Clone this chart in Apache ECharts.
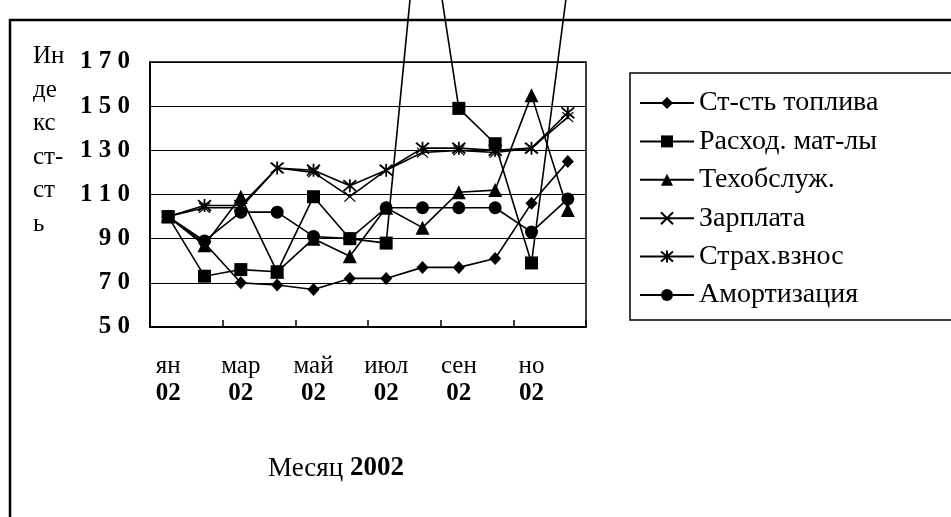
<!DOCTYPE html>
<html>
<head>
<meta charset="utf-8">
<script src="https://cdn.jsdelivr.net/npm/echarts@6/dist/echarts.min.js"></script>
<style>
html,body{margin:0;padding:0;background:#fff;}
#c{width:951px;height:517px;}
</style>
</head>
<body>
<div id="c"></div>
<script>
// ---- data ----
const months = ['ян','фев','мар','апр','май','июн','июл','авг','сен','окт','но','дек'];
const yearLabel = '02';
const fuel      = [100, 88, 70, 69, 67, 72, 72, 77, 77, 81, 106, 125];
const materials = [100, 73, 76, 75, 109, 90, 88, 256, 149, 133, 79, 205];
const service   = [100, 87, 109, 75, 90, 82, 104, 95, 111, 112, 155, 103];
const salary    = [100, 104, 104, 122, 120, 109, 121, 129, 130, 129, 131, 145];
const insurance = [100, 105, 105, 122, 121, 114, 121, 131, 131, 130, 131, 147];
const amort     = [100, 89, 102, 102, 91, 90, 104, 104, 104, 104, 93, 108];
const seriesNames = ['Ст-сть топлива','Расход. мат-лы','Техобслуж.','Зарплата','Страх.взнос','Амортизация'];
const yTitle = ['Ин','де','кс','ст-','ст','ь'];
const xTitle = 'Месяц';
const xTitleYear = '2002';
const yMin = 50, yMax = 170, yStep = 20;

const SERIF = '"Liberation Serif","Times New Roman",serif';
const chart = echarts.init(document.getElementById('c'));

const xPath = 'path://M0,0 L10,10 M10,0 L0,10';
const starPath = 'path://M0,0 L10,10 M10,0 L0,10 M5,-1 L5,11';

function mk(name, data, symbol, size, extra) {
  return Object.assign({
    name: name, type: 'line', data: data,
    symbol: symbol, symbolSize: size,
    clip: false, animation: false,
    lineStyle: { color: '#000', width: 1.6 },
    itemStyle: { color: '#000', borderColor: '#000', borderWidth: 0 },
    emphasis: { disabled: true }
  }, extra || {});
}

const option = {
  backgroundColor: '#fff',
  animation: false,
  textStyle: { fontFamily: SERIF, color: '#000' },
  grid: { left: 150, right: 365, top: 62, bottom: 190, show: true, borderColor: '#000', borderWidth: 1.5 },
  xAxis: {
    type: 'category', data: months, boundaryGap: true,
    axisLine: { lineStyle: { color: '#000', width: 2 } },
    axisTick: { show: true, inside: true, length: 7, interval: 1, lineStyle: { color: '#000', width: 1.5 } },
    axisLabel: {
      interval: 1, margin: 25, color: '#000',
      formatter: function (v) { return '{m|' + v + '}\n{y|' + yearLabel + '}'; },
      rich: {
        m: { fontFamily: SERIF, fontSize: 25, lineHeight: 28, color: '#000' },
        y: { fontFamily: SERIF, fontSize: 25, fontWeight: 'bold', lineHeight: 28, color: '#000' }
      }
    },
    splitLine: { show: false }
  },
  yAxis: {
    type: 'value', min: yMin, max: yMax, interval: yStep,
    axisLine: { show: true, lineStyle: { color: '#000', width: 2 } },
    axisTick: { show: false },
    axisLabel: {
      margin: 20, color: '#000', fontFamily: SERIF, fontSize: 25, fontWeight: 'bold',
      padding: [12, 0, 0, 0],
      formatter: function (v) { return String(v).split('').join(' '); }
    },
    splitLine: { show: true, lineStyle: { color: '#000', width: 1 } }
  },
  legend: {
    orient: 'vertical', left: 630, top: 73,
    padding: [15, 120, 10, 9],
    itemWidth: 54, itemHeight: 15, itemGap: 8.4,
    borderColor: '#000', borderWidth: 1.5,
    textStyle: { fontFamily: SERIF, fontSize: 28, lineHeight: 30, color: '#000' },
    data: seriesNames
  },
  graphic: [
    { type: 'rect', z: -10, silent: true, shape: { x: 10, y: 20, width: 2000, height: 2000 },
      style: { fill: 'none', stroke: '#000', lineWidth: 2.5 } },
    { type: 'text', left: 33, top: 40, silent: true,
      style: { text: yTitle.join('\n'), font: '25px ' + SERIF, lineHeight: 33.5, fill: '#000' } },
    { type: 'text', left: 268, top: 455, silent: true,
      style: {
        text: '{a|' + xTitle + ' }{b|' + xTitleYear + '}',
        rich: {
          a: { fontFamily: SERIF, fontSize: 27, fill: '#000' },
          b: { fontFamily: SERIF, fontSize: 27, fontWeight: 'bold', fill: '#000' }
        }
      } }
  ],
  series: [
    mk(seriesNames[0], fuel, 'diamond', [12, 13]),
    mk(seriesNames[1], materials, 'rect', 13),
    mk(seriesNames[2], service, 'triangle', 14),
    mk(seriesNames[3], salary, xPath, [11, 10], { itemStyle: { color: '#000', borderColor: '#000', borderWidth: 1.2 } }),
    mk(seriesNames[4], insurance, starPath, [13, 13], { itemStyle: { color: '#000', borderColor: '#000', borderWidth: 1.8 } }),
    mk(seriesNames[5], amort, 'circle', 13)
  ]
};
chart.setOption(option);
</script>
</body>
</html>
